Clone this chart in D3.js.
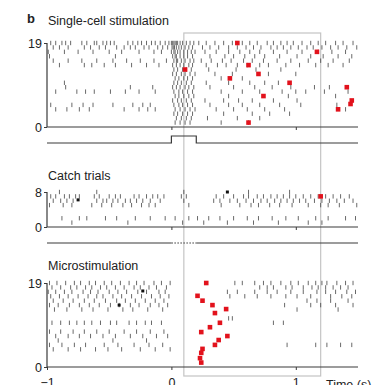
<!DOCTYPE html>
<html>
<head>
<meta charset="utf-8">
<script src="https://cdn.jsdelivr.net/npm/d3@7"></script>
<style>
  body { margin: 0; background: #fff; }
  text { font-family: "Liberation Sans", Arial, Helvetica, sans-serif; fill: #222; }
</style>
</head>
<body>
<div id="chart"></div>
<script>
// spike times (s) per trial
const singleCell = [
  [19, [-0.97,-0.93,-0.88,-0.85,-0.81,-0.72,-0.68,-0.62,-0.6,-0.55,-0.52,-0.49,-0.46,-0.35,-0.31,-0.27,-0.24,-0.2,-0.16,-0.13,-0.09,-0.05,-0.02,0,0.01,0.02,0.03,0.04,0.05,0.07,0.09,0.12,0.15,0.18,0.22,0.28,0.35,0.42,0.49,0.57,0.63,0.69,0.77,0.82,0.88,0.93,0.98,1.05,1.12,1.18,1.24,1.32,1.38,1.46]],
  [18, [-0.95,-0.9,-0.83,-0.7,-0.65,-0.58,-0.53,-0.44,-0.38,-0.33,-0.29,-0.22,-0.18,-0.11,-0.07,-0.03,0.005,0.015,0.025,0.04,0.06,0.08,0.11,0.14,0.17,0.25,0.31,0.38,0.46,0.53,0.6,0.66,0.72,0.8,0.85,0.9,0.96,1.02,1.09,1.14,1.21,1.28,1.34,1.41,1.49]],
  [17, [-0.99,-0.86,-0.75,-0.63,-0.5,-0.4,-0.26,-0.14,-0.08,0,0.02,0.03,0.05,0.07,0.1,0.13,0.16,0.19,0.27,0.36,0.46,0.55,0.63,0.71,0.82,0.93,1.05,1.18,1.29,1.4]],
  [16, [-0.98,-0.45,0.01,0.03,0.04,0.07,0.1,0.13,0.17,0.31,0.43,0.5,0.59,0.67,0.75,0.87,1.01,1.12,1.22,1.34,1.45]],
  [15, [-0.95,-0.83,-0.72,-0.6,-0.47,-0.36,-0.25,-0.14,-0.04,0.02,0.04,0.05,0.08,0.11,0.15,0.18,0.24,0.32,0.41,0.48,0.58,0.65,0.74,0.85,0.96,1.1,1.2,1.3,1.43]],
  [14, [-0.9,-0.7,-0.64,-0.54,-0.45,-0.32,-0.2,-0.1,0.01,0.04,0.07,0.1,0.14,0.17,0.28,0.37,0.44,0.53,0.61,0.71,0.78,0.92,1.03,1.16,1.26,1.38]],
  [13, [0.02,0.05,0.09,0.12,0.16,0.3,0.52,0.68,0.88]],
  [12, [0.01,0.04,0.08,0.11,0.15,0.19,0.35,0.49,0.78,1.0]],
  [11, [0.03,0.06,0.1,0.13,0.17,0.4,0.57]],
  [10, [-0.86,0.02,0.05,0.08,0.12,0.16,0.28,0.46,0.63,0.75,0.86]],
  [9,  [-0.85,-0.33,-0.15,0.01,0.04,0.07,0.11,0.14,0.18,0.31,0.5,0.67,0.81,0.96,1.15,1.27]],
  [8,  [-0.93,-0.76,-0.69,-0.62,-0.49,-0.37,-0.26,-0.13,0.02,0.06,0.09,0.13,0.17,0.4,0.57,0.71,0.89,1.0,1.08,1.23,1.42]],
  [7,  [0.03,0.06,0.1,0.14,0.18,0.46,0.94,1.32]],
  [6,  [0.01,0.05,0.08,0.12,0.16,0.27,0.42,0.54,0.65,0.82,1.01]],
  [5,  [-0.97,-0.8,-0.71,-0.63,-0.47,-0.31,-0.23,-0.17,0.02,0.06,0.09,0.13,0.17,0.31,0.46,0.57,0.71,0.87,1.04,1.33]],
  [4,  [-0.93,-0.84,-0.74,-0.66,-0.38,-0.26,-0.19,-0.13,0.03,0.07,0.11,0.15,0.19,0.36,0.5,0.61,0.75,0.91,1.4]],
  [3,  [0.02,0.05,0.09,0.13,0.17,0.42,0.65,0.79,0.95]],
  [2,  [0.04,0.08,0.12,0.16,0.29,0.53,0.71]],
  [1,  [0.03,0.07,0.11,0.15,0.4,0.62]]
];
const singleCellRed = [[0.53,19],[1.17,17],[0.11,13],[0.62,14],[0.7,12],[0.47,11],[0.95,10],[1.41,9],[0.74,7],[1.45,6],[1.44,5.2],[1.34,4],[0.62,1]];

const catchTrials = [
  [8, [-0.9,-0.6,0.1,0.62,0.95]],
  [7, [-0.97,-0.93,-0.86,-0.82,-0.77,-0.74,-0.62,-0.58,-0.5,-0.45,-0.41,-0.3,-0.26,-0.2,-0.15,-0.11,-0.06,0.08,0.12,0.36,0.42,0.5,0.58,0.62,0.69,0.74,0.8,0.85,0.9,0.95,1.0,1.06,1.12,1.18,1.24,1.3,1.36,1.43]],
  [6, [-0.95,-0.89,-0.84,-0.79,-0.6,-0.55,-0.52,-0.47,-0.43,-0.37,-0.33,-0.28,-0.23,-0.17,-0.09,0.1,0.34,0.39,0.47,0.53,0.6,0.66,0.72,0.77,0.83,0.88,0.93,0.98,1.03,1.08,1.15,1.21,1.27,1.33,1.39,1.46]],
  [5, [-0.98,-0.87,-0.8,-0.64,-0.56,-0.48,-0.39,-0.32,-0.24,-0.18,-0.13,0.14,0.4,0.55,0.64,0.7,0.79,0.87,0.97,1.1,1.2,1.26,1.35,1.49]],
  [2, [-0.88,-0.74,-0.68,-0.53,-0.44,-0.29,-0.17,-0.05,0.03,0.14,0.21,0.3,0.39,0.5,0.61,0.7,0.81,0.92,1.02,1.16,1.26,1.4,1.48]],
  [1, [-0.8,-0.35,0.09,0.26,0.45,0.66,0.86,1.1,1.21]]
];
const catchRed = [[1.2,7]];
const catchBlack = [[-0.75,6.2],[0.45,8]];

const microstim = [
  [19, [-0.98,-0.92,-0.85,-0.78,-0.73,-0.66,-0.61,-0.54,-0.48,-0.41,-0.34,-0.28,-0.22,-0.14,-0.08,-0.01,0.51,0.57,0.67,0.74,0.8,0.88,0.96,1.02,1.1,1.16,1.21,1.25,1.33,1.4,1.46]],
  [18, [-0.96,-0.89,-0.81,-0.76,-0.69,-0.64,-0.57,-0.52,-0.45,-0.38,-0.3,-0.25,-0.18,-0.12,-0.04,0.71,0.77,0.82,0.92,0.97,1.06,1.13,1.18,1.24,1.3,1.36,1.42]],
  [17, [-0.99,-0.93,-0.86,-0.8,-0.71,-0.65,-0.59,-0.5,-0.43,-0.36,-0.27,-0.2,-0.1,-0.05,0.45,0.53,0.67,0.77,0.85,0.96,1.06,1.17,1.24,1.32,1.41,1.48]],
  [16, [-0.97,-0.9,-0.83,-0.75,-0.67,-0.6,-0.55,-0.47,-0.4,-0.32,-0.24,-0.16,-0.09,-0.02,0.47,0.59,0.69,0.8,0.92,1.01,1.12,1.28,1.37,1.45]],
  [15, [-0.95,-0.87,-0.79,-0.7,-0.62,-0.53,-0.44,-0.37,-0.29,-0.21,-0.13,-0.06,1.09,1.17,1.28,1.42]],
  [14, [-0.98,-0.91,-0.82,-0.74,-0.66,-0.58,-0.49,-0.42,-0.33,-0.26,-0.17,-0.1,-0.03,0.91,1.12,1.2,1.32,1.46]],
  [13, [-0.94,-0.84,-0.72,-0.63,-0.51,-0.39,-0.31,-0.19,-0.07,1.01,1.34]],
  [11, [0.46,0.49]],
  [10, [-0.96,-0.89,-0.82,-0.76,-0.7,-0.64,-0.57,-0.49,-0.44,-0.34,-0.28,-0.21,-0.16,-0.08,0.82,0.9]],
  [8,  [-0.98,-0.89,-0.79,-0.7,-0.6,-0.5,-0.38,-0.28,-0.17,-0.06]],
  [7,  [-0.93,-0.83,-0.74,-0.65,-0.55,-0.45,-0.33,-0.23,-0.12,-0.03]],
  [6,  [-0.91,-0.47,-0.2]],
  [5,  [-0.98,-0.88,-0.78,-0.69,-0.54,-0.43,-0.3,-0.18,-0.07,0.93,1.16,1.25,1.36,1.45]],
  [4,  [-0.95,-0.83,-0.73,-0.61,-0.51,-0.4,-0.25,-0.13,-0.01]]
];
const microRed = [[0.28,19],[0.21,16.1],[0.25,15],[0.33,14],[0.44,13.1],[0.35,12.2],[0.39,10],[0.31,9],[0.24,7.9],[0.45,7],[0.38,6.1],[0.35,5],[0.25,4.1],[0.24,3.2],[0.23,2],[0.24,1]];
const microBlack = [[-0.23,17.2],[-0.42,14]];

const xTicks = [-1, 0, 1];
const xTickLabels = ["\u22121", "0", "1"];
const stimWindow = [0, 0.2];
const analysisWindow = [0.1, 1.2];

const width = 376, height = 385;
const red = "#e2121c";
const ink = "#3a3a3a";

const svg = d3.select("#chart").append("svg")
  .attr("width", width).attr("height", height);

const x = d3.scaleLinear().domain([-1, 1.5]).range([47, 358]);

// grey analysis box behind everything
svg.append("rect")
  .attr("x", x(analysisWindow[0])).attr("y", 33)
  .attr("width", x(analysisWindow[1]) - x(analysisWindow[0]))
  .attr("height", 343)
  .attr("fill", "none").attr("stroke", "#c4c4c4").attr("stroke-width", 1.2);

svg.append("text").attr("x", 27).attr("y", 23)
  .style("font-weight", "bold").style("font-size", "13px").text("b");

function panel(opts) {
  const y = d3.scaleLinear().domain([0, opts.maxTrial]).range([opts.bottom, opts.top]);
  const g = svg.append("g");

  g.append("text").attr("x", 48).attr("y", opts.titleY)
    .style("font-size", "12.5px").text(opts.title);

  const spikes = opts.trials.flatMap(([tr, ts]) => ts.map(t => ({t, tr})));
  g.selectAll("line.spike").data(spikes).enter().append("line")
    .attr("class", "spike")
    .attr("x1", d => x(d.t)).attr("x2", d => x(d.t))
    .attr("y1", d => y(d.tr) - 2.2).attr("y2", d => y(d.tr) + 2.2)
    .attr("stroke", ink).attr("stroke-width", 0.9).attr("stroke-opacity", 0.85);

  g.selectAll("rect.blk").data(opts.black || []).enter().append("rect")
    .attr("x", d => x(d[0]) - 1.5).attr("y", d => y(d[1]) - 1.5)
    .attr("width", 3).attr("height", 3).attr("fill", "#111");

  g.selectAll("rect.red").data(opts.red).enter().append("rect")
    .attr("x", d => x(d[0]) - 2.3).attr("y", d => y(d[1]) - 2.3)
    .attr("width", 4.6).attr("height", 4.6).attr("fill", red);

  const ya = g.append("g").attr("transform", `translate(${x(-1)},0)`)
    .call(d3.axisLeft(y).tickValues([0, opts.maxTrial]).tickSize(3).tickPadding(2));
  const xa = g.append("g").attr("transform", `translate(0,${opts.bottom})`)
    .call(d3.axisBottom(x).tickValues(opts.labels ? xTicks : [0, 1]).tickSize(3).tickPadding(8)
      .tickFormat((d, i) => opts.labels ? xTickLabels[i] : ""));
  [ya, xa].forEach(a => {
    a.select(".domain").attr("stroke", ink).attr("stroke-width", 1.2);
    a.selectAll(".tick line").attr("stroke", ink);
    a.selectAll(".tick text").style("font-size", "12.5px")
      .style("font-family", "'Liberation Sans', Arial, sans-serif").attr("fill", "#222");
  });
  xa.select(".domain").attr("d", `M${x(-1)},0H${x(1.5)}`);
  ya.select(".domain").attr("d", `M0,${opts.top}V${opts.bottom}`);
  return g;
}

panel({title: "Single-cell stimulation", titleY: 25, maxTrial: 19, top: 43, bottom: 127,
  trials: singleCell, red: singleCellRed});
panel({title: "Catch trials", titleY: 180, maxTrial: 8, top: 192, bottom: 227,
  trials: catchTrials, red: catchRed, black: catchBlack});
panel({title: "Microstimulation", titleY: 270, maxTrial: 19, top: 283, bottom: 367,
  trials: microstim, red: microRed, black: microBlack, labels: true});

svg.append("text").attr("x", 326).attr("y", 389)
  .style("font-size", "12.5px").text("Time (s)");

// stimulus traces
const pulse = d3.line()([
  [x(-1), 143], [x(stimWindow[0]), 143], [x(stimWindow[0]), 136],
  [x(stimWindow[1]), 136], [x(stimWindow[1]), 143], [x(1.5), 143]
]);
svg.append("path").attr("d", pulse).attr("fill", "none")
  .attr("stroke", ink).attr("stroke-width", 1.2);

svg.append("path").attr("d", d3.line()([[x(-1), 243], [x(stimWindow[0]), 243]]))
  .attr("stroke", ink).attr("stroke-width", 1.2);
svg.append("path").attr("d", d3.line()([[x(stimWindow[1]), 243], [x(1.5), 243]]))
  .attr("stroke", ink).attr("stroke-width", 1.2);
svg.append("path").attr("d", d3.line()([[x(stimWindow[0]), 243], [x(stimWindow[1]), 243]]))
  .attr("stroke", ink).attr("stroke-width", 1.2).attr("stroke-dasharray", "1.5,1.5");
</script>
</body>
</html>
